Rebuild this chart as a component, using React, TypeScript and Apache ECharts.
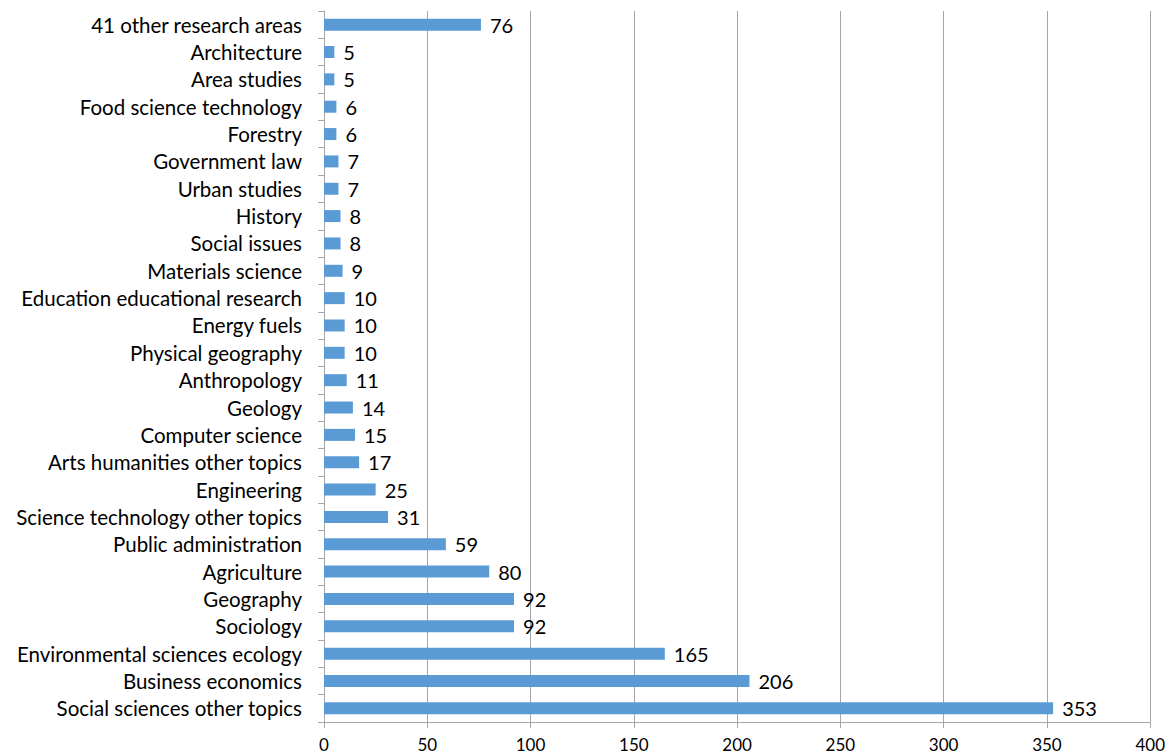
import React, { useEffect, useRef } from "react";
import * as echarts from "echarts";

const categories = [
  "Social sciences other topics",
  "Business economics",
  "Environmental sciences ecology",
  "Sociology",
  "Geography",
  "Agriculture",
  "Public administration",
  "Science technology other topics",
  "Engineering",
  "Arts humanities other topics",
  "Computer science",
  "Geology",
  "Anthropology",
  "Physical geography",
  "Energy fuels",
  "Education educational research",
  "Materials science",
  "Social issues",
  "History",
  "Urban studies",
  "Government law",
  "Forestry",
  "Food science technology",
  "Area studies",
  "Architecture",
  "41 other research areas",
];

const values = [353, 206, 165, 92, 92, 80, 59, 31, 25, 17, 15, 14, 11, 10, 10, 10, 9, 8, 8, 7, 7, 6, 6, 5, 5, 76];

const xMin = 0;
const xMax = 400;
const xInterval = 50;

export default function App() {
  const ref = useRef<HTMLDivElement>(null);
  useEffect(() => {
    if (!ref.current) return;
    const chart = echarts.init(ref.current, undefined, { renderer: "svg" });
    const font = "Lato, 'Open Sans', sans-serif";
    chart.setOption({
      animation: false,
      backgroundColor: "#ffffff",
      grid: { left: 324, right: 16, top: 11, bottom: 34, containLabel: false },
      xAxis: {
        type: "value",
        min: xMin,
        max: xMax,
        interval: xInterval,
        axisLine: { show: true, lineStyle: { color: "#A6A6A6", width: 1 } },
        axisTick: { show: true, length: 6, lineStyle: { color: "#A6A6A6" } },
        axisLabel: { color: "#000000", fontSize: 17, fontFamily: font, margin: 14 },
        splitLine: { show: true, lineStyle: { color: "#A6A6A6", width: 1 } },
      },
      yAxis: {
        type: "category",
        data: categories,
        axisLine: { show: true, lineStyle: { color: "#A6A6A6", width: 1 } },
        axisTick: { show: true, length: 6, alignWithLabel: false, lineStyle: { color: "#A6A6A6" } },
        axisLabel: { color: "#000000", fontSize: 20.5, fontFamily: font, margin: 22, interval: 0 },
        splitLine: { show: false },
      },
      series: [
        {
          type: "bar",
          data: values,
          barWidth: 12,
          itemStyle: { color: "#5B9BD5" },
          label: {
            show: true,
            position: "right",
            distance: 9,
            color: "#000000",
            fontSize: 20,
            fontFamily: font,
          },
        },
      ],
    });
    return () => chart.dispose();
  }, []);
  return (
    <div
      ref={ref}
      style={{ position: "absolute", left: 0, top: 0, width: 1168, height: 756 }}
    />
  );
}
